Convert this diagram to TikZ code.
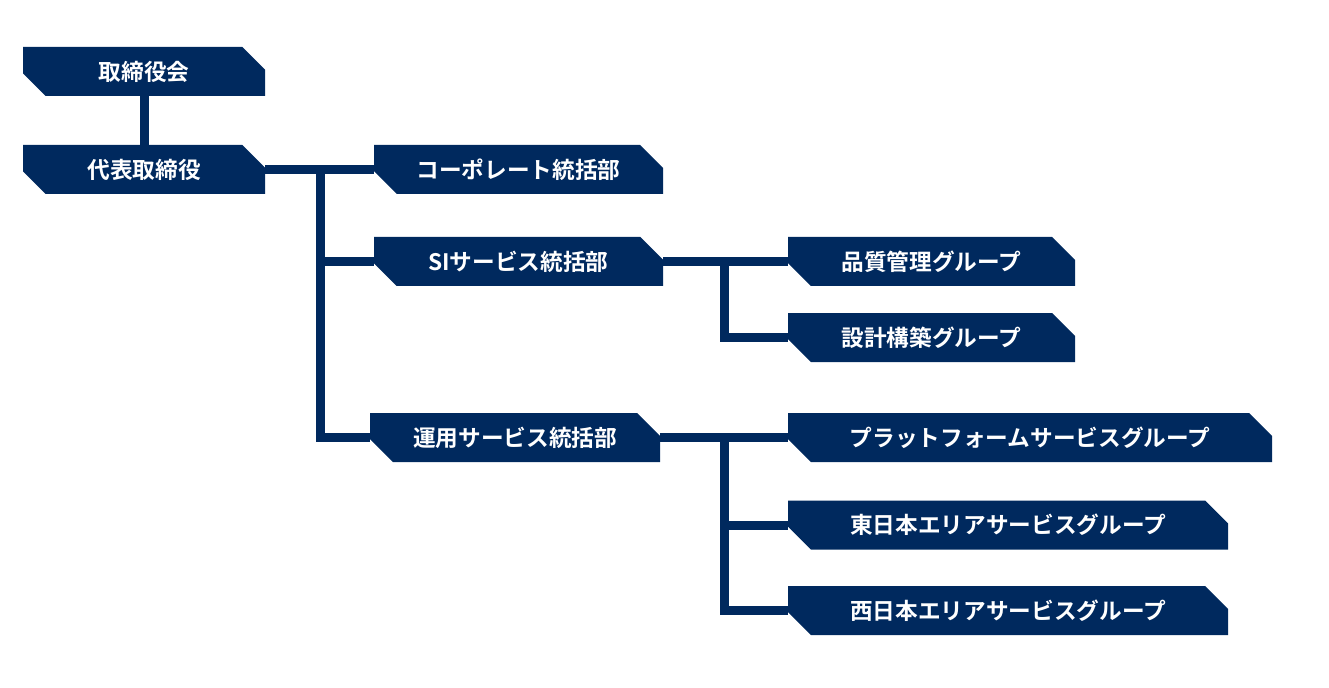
\documentclass[tikz,border=0pt]{standalone}
\usepackage{fontspec}
\setmainfont{Noto Sans CJK JP}[BoldFont={* Bold}]
\usetikzlibrary{shapes.misc}
\definecolor{navy}{RGB}{0,41,94}
\tikzset{
  org/.style={chamfered rectangle, chamfered rectangle corners={north east,south west},
    chamfered rectangle xsep=9pt, chamfered rectangle ysep=9pt,
    fill=navy, text=white, inner sep=0pt, minimum height=49*0.75pt,
    font=\fontsize{17}{20}\selectfont\bfseries},
  link/.style={draw=navy, line width=6.75pt}
}
\begin{document}
\begin{tikzpicture}[x=0.75pt,y=0.75pt,yscale=-1]
\useasboundingbox (0,0) rectangle (1329,688);

% boards
\node[org, minimum width=242*0.75pt] (board) at (144,71.5) {取締役会};
\node[org, minimum width=242*0.75pt] (ceo) at (144,169.5) {代表取締役};
% divisions
\node[org, minimum width=289*0.75pt] (corp) at (518.5,169.5) {コーポレート統括部};
\node[org, minimum width=289*0.75pt] (si) at (518.5,261.5) {SIサービス統括部};
\node[org, minimum width=290*0.75pt] (ops) at (515,437.5) {運用サービス統括部};
% groups
\node[org, minimum width=287*0.75pt] (qa) at (931.5,261.5) {品質管理グループ};
\node[org, minimum width=287*0.75pt] (design) at (931.5,337.5) {設計構築グループ};
\node[org, minimum width=484*0.75pt] (platform) at (1030,437.5) {プラットフォームサービスグループ};
\node[org, minimum width=440*0.75pt] (east) at (1008,525) {東日本エリアサービスグループ};
\node[org, minimum width=440*0.75pt] (west) at (1008,610.5) {西日本エリアサービスグループ};

% junctions
\coordinate (jceo) at (320,169.5);
\coordinate (jsi) at (724,261.5);
\coordinate (jops) at (724,437.5);

\draw[link] (board.south) -- (ceo.north);
\draw[link] (ceo.east) -- (corp.west);
\draw[link] (jceo) -- (jceo |- ops.west) -- (ops.west);
\draw[link] (jceo |- si.west) -- (si.west);
\draw[link] (si.east) -- (qa.west);
\draw[link] (jsi) -- (jsi |- design.west) -- (design.west);
\draw[link] (ops.east) -- (platform.west);
\draw[link] (jops) -- (jops |- west.west) -- (west.west);
\draw[link] (jops |- east.west) -- (east.west);
\end{tikzpicture}
\end{document}
